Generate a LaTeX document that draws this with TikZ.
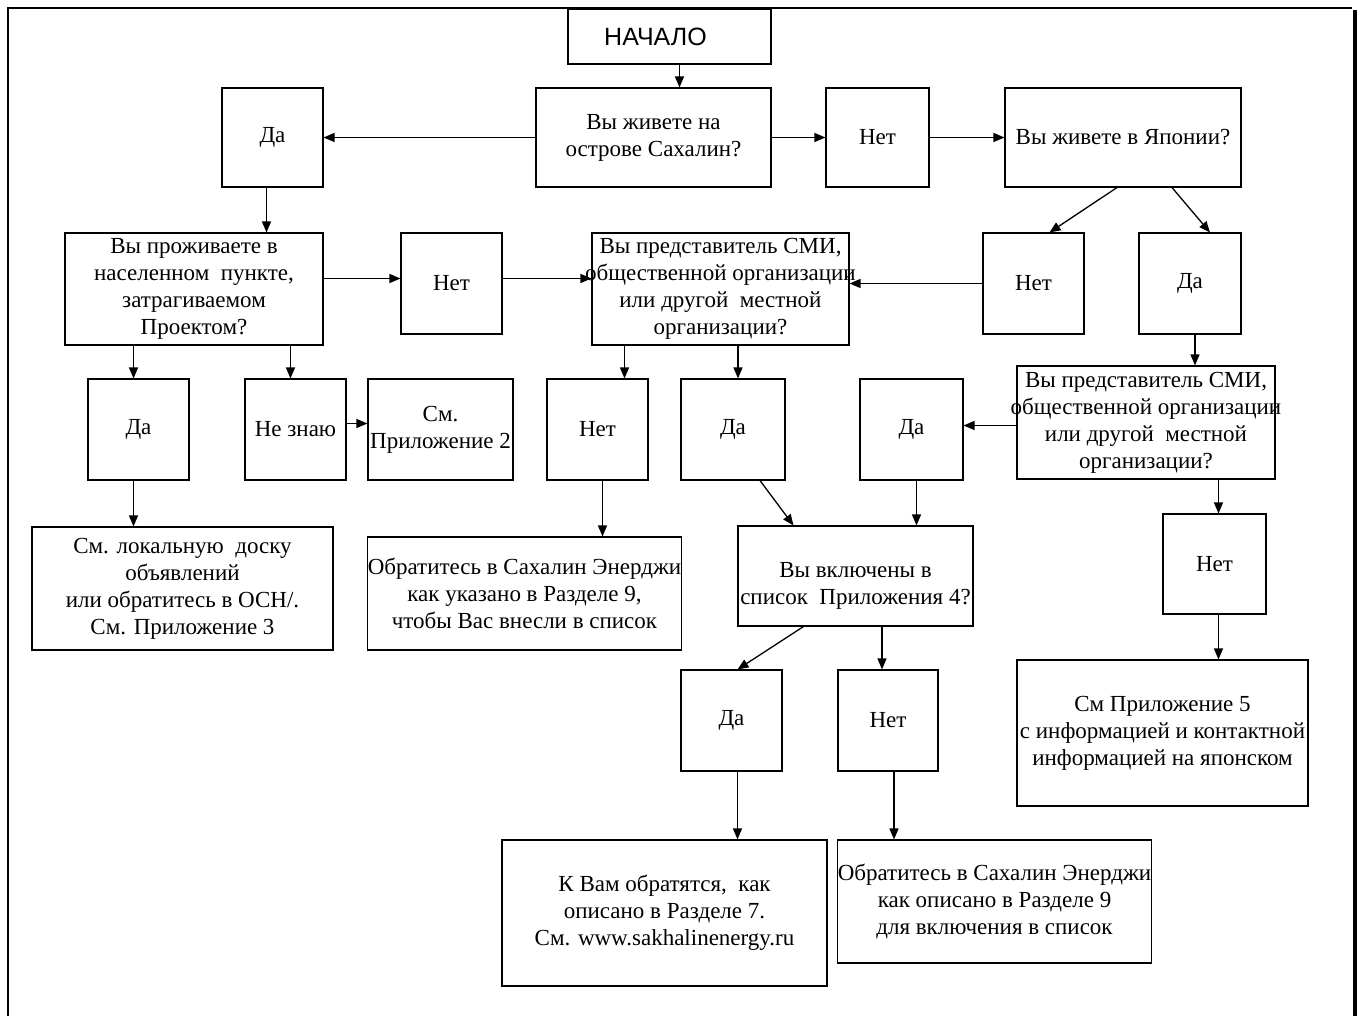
\documentclass[tikz,border=0pt]{standalone}
\usepackage{fontspec}
\setmainfont{Liberation Serif}
\newfontfamily\headfont{Liberation Sans}
\usetikzlibrary{arrows.meta,calc,positioning}

\begin{document}
\begin{tikzpicture}[x=1pt, y=-1pt,
    box/.style={draw, line width=1.1pt, align=center, inner sep=0pt, font=\fontsize{23}{27}\selectfont},
    answer/.style={box, minimum width=101pt, minimum height=101pt},
    wide text/.style={inner xsep=-7pt},
    flow/.style={line width=1.3pt, -{Triangle[length=11pt, width=9pt]}}
]

% Page size and frame
\useasboundingbox (0,0) rectangle (1361,1016);
\draw[line width=1.2pt] (8,1016) -- (8,8) -- (1352,8);
\draw[line width=4pt] (1355,10) -- (1355,1016);

% === Top row ===
\node[box, minimum width=203pt, minimum height=55pt, font=\headfont\fontsize{25}{27}\selectfont] (start) at (669.5,36.5) {НАЧАЛО\hspace*{28pt}};
\node[box, minimum width=235pt, minimum height=99pt] (sakhalin) at (653.5,137.5) {Вы живете на\\острове Сахалин?};
\node[answer, minimum height=99pt] (yesA) at (272.5,137.5) {Да};
\node[answer, minimum width=103pt, minimum height=99pt] (noA) at (877.5,137.5) {Нет};
\node[box, minimum width=236pt, minimum height=99pt] (japan) at (1123,137.5) {Вы живете в Японии?};

% === Second row ===
\node[box, minimum width=258pt, minimum height=112pt] (village) at (194,289) {Вы проживаете в\\населенном\ \ пункте,\\затрагиваемом\\Проектом?};
\node[answer] (noB) at (451.5,283.5) {Нет};
\node[box, wide text, minimum width=257pt, minimum height=112pt] (mediaL) at (720.5,289) {Вы представитель СМИ,\\общественной организации\\или другой\ \ местной\\организации?};
\node[answer] (noC) at (1033.5,283.5) {Нет};
\node[answer, minimum width=102pt] (yesB) at (1190,283.5) {Да};

% === Third row ===
\node[answer] (yesC) at (138.5,429.5) {Да};
\node[answer] (dunno) at (295.5,429.5) {Не знаю};
\node[box, minimum width=145pt, minimum height=101pt] (appTwo) at (440.5,429.5) {См.\\Приложение 2};
\node[answer] (noD) at (597.5,429.5) {Нет};
\node[answer, minimum width=104pt] (yesD) at (733,429.5) {Да};
\node[answer, minimum width=103pt] (yesE) at (911.5,429.5) {Да};
\node[box, wide text, minimum width=258pt, minimum height=113pt] (mediaR) at (1146,422.5) {Вы представитель СМИ,\\общественной организации\\или другой\ \ местной\\организации?};

% === Fourth row ===
\node[box, minimum width=301pt, minimum height=123pt] (board) at (182.5,588.5) {См. локальную\ \ доску\\объявлений\\или обратитесь в ОСН/.\\См. Приложение 3};
\node[box, minimum width=313pt, minimum height=113pt] (callA) at (524.5,593.5) {Обратитесь в Сахалин Энерджи\\как указано в Разделе 9,\\чтобы Вас внесли в список};
\node[box, minimum width=235pt, minimum height=100pt] (listed) at (855.5,576) {\\[8pt]Вы включены в\\список\ \ Приложения 4?};
\node[answer, minimum width=103pt, minimum height=100pt] (noE) at (1214.5,564) {Нет};

% === Bottom rows ===
\node[answer] (yesF) at (731.5,720.5) {Да};
\node[answer, minimum width=100pt] (noF) at (888,720.5) {Нет};
\node[box, minimum width=291pt, minimum height=146pt] (appFive) at (1162.5,733) {См Приложение 5\\с информацией и контактной\\информацией на японском};
\node[box, minimum width=325pt, minimum height=146pt] (reply) at (664.5,913) {К Вам обратятся,\ \ как\\описано в Разделе 7.\\См. www.sakhalinenergy.ru};
\node[box, minimum width=313pt, minimum height=123pt] (callB) at (994.5,901.5) {Обратитесь в Сахалин Энерджи\\как описано в Разделе 9\\для включения в список};

% === Connectors ===
\draw[flow] ([xshift=10pt]start.south) -- ([xshift=10pt]start.south |- sakhalin.north);
\draw[flow] (sakhalin.west) -- (yesA.east);
\draw[flow] (sakhalin.east) -- (noA.west);
\draw[flow] (noA.east) -- (japan.west);
\draw[flow] ([xshift=-6pt]yesA.south) -- ([xshift=-6pt]yesA.south |- village.north);
\draw[flow] ([yshift=5pt]noB.west -| village.east) -- ([yshift=5pt]noB.west);
\draw[flow] ([yshift=5pt]noB.east) -- ([yshift=5pt]noB.east -| mediaL.west);
\draw[flow] ([xshift=-6pt]japan.south) -- ([xshift=16pt]noC.north);
\draw[flow] ([xshift=49pt]japan.south) -- ([xshift=20pt]yesB.north);
\draw[flow] (noC.west) -- (noC.west -| mediaL.east);
\draw[flow] ([xshift=-5pt]yesC.north |- village.south) -- ([xshift=-5pt]yesC.north);
\draw[flow] ([xshift=-5pt]dunno.north |- village.south) -- ([xshift=-5pt]dunno.north);
\draw[flow] ([yshift=6pt]dunno.east) -- ([yshift=6pt]dunno.east -| appTwo.west);
\draw[flow] ([xshift=27pt]noD.north |- mediaL.south) -- ([xshift=27pt]noD.north);
\draw[flow] ([xshift=5pt]yesD.north |- mediaL.south) -- ([xshift=5pt]yesD.north);
\draw[flow] ([xshift=5pt]yesB.south) -- ([xshift=5pt]yesB.south |- mediaR.north);
\draw[flow] ([yshift=-3pt]mediaR.west) -- ([yshift=-3pt]mediaR.west -| yesE.east);
\draw[flow] ([xshift=4pt]noE.north |- mediaR.south) -- ([xshift=4pt]noE.north);
\draw[flow] ([xshift=-5pt]yesC.south) -- ([xshift=-5pt]yesC.south |- board.north);
\draw[flow] ([xshift=5pt]noD.south) -- ([xshift=5pt]noD.south |- callA.north);
\draw[flow] ([xshift=27pt]yesD.south) -- ([xshift=-62pt]listed.north);
\draw[flow] ([xshift=5pt]yesE.south) -- ([xshift=5pt]yesE.south |- listed.north);
\draw[flow] ([xshift=-52pt]listed.south) -- ([xshift=6pt]yesF.north);
\draw[flow] ([xshift=-6pt]noF.north |- listed.south) -- ([xshift=-6pt]noF.north);
\draw[flow] ([xshift=4pt]noE.south) -- ([xshift=4pt]noE.south |- appFive.north);
\draw[flow] ([xshift=6pt]yesF.south) -- ([xshift=6pt]yesF.south |- reply.north);
\draw[flow] ([xshift=6pt]noF.south) -- ([xshift=6pt]noF.south |- callB.north);

\end{tikzpicture}
\end{document}
